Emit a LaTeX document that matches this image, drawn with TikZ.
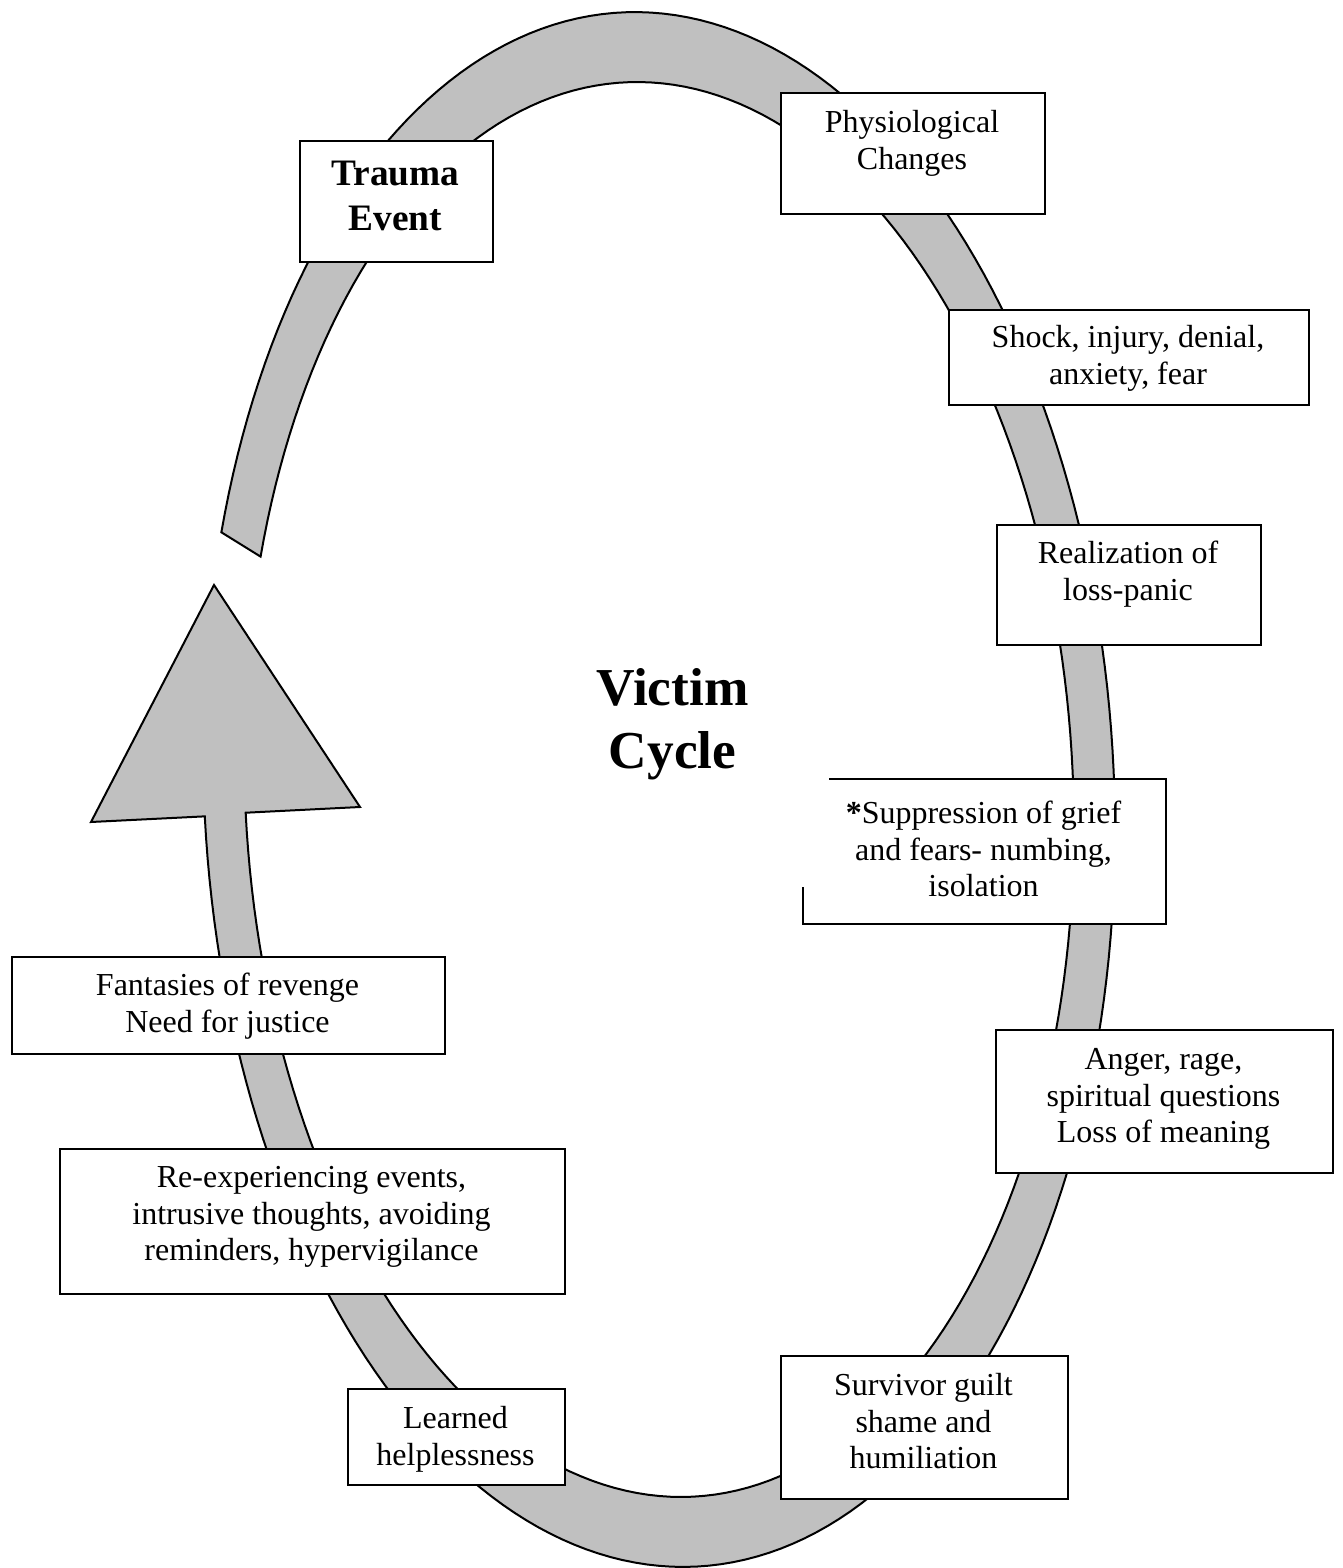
\documentclass[tikz,border=0pt]{standalone}
\usepackage{fontspec}
\setmainfont{Liberation Serif}
\definecolor{bandgray}{RGB}{192,192,192}
\tikzset{
  band/.style={fill=bandgray, draw=black, line width=0.75pt, line join=miter},
  box/.style={draw=black, fill=white, line width=0.85pt, inner sep=0pt, anchor=north west},
  txt/.style={inner sep=0pt, anchor=north, align=center, font=\fontsize{12}{13.7}\selectfont},
  boldtxt/.style={inner sep=0pt, anchor=north, align=center, font=\bfseries\fontsize{14}{16.9}\selectfont},
  titletxt/.style={inner sep=0pt, anchor=north, align=center, font=\bfseries\fontsize{20}{23.6}\selectfont}
}
\begin{document}
\begin{tikzpicture}[x=0.375pt, y=-0.375pt]
\useasboundingbox (0,0) rectangle (1342,1568);

% grey cycle band with arrow head
\draw[band]
  plot[domain=180.4:519.1, samples=220, variable=\t]
    ({659 + 454.495*cos(\t) - 36.652*sin(\t)}, {789.5 - 21.435*cos(\t) - 777.136*sin(\t)})
  -- plot[domain=519.2:180.3, samples=220, variable=\t]
    ({659 + 413.540*cos(\t) - 33.354*sin(\t)}, {789.5 - 19.504*cos(\t) - 707.214*sin(\t)})
  -- (360,807) -- (214,585) -- (91,822) -- cycle;

% boxes
\node[box, minimum width=72.375pt, minimum height=45.375pt] (trauma) at (299,140) {};
\node[box, minimum width=99pt, minimum height=45.375pt] (physio) at (780,92) {};
\node[box, minimum width=135pt, minimum height=35.625pt] (shock) at (948,309) {};
\node[box, minimum width=99pt, minimum height=45pt] (real) at (996,524) {};
\node[box, draw=none, minimum width=135.375pt, minimum height=53.625pt] (supp) at (803,779) {};
\draw[line width=0.85pt] ([xshift=9.75pt]supp.north west) -- (supp.north east) -- (supp.south east) -- (supp.south west) -- ([yshift=13.9pt]supp.south west);
\node[box, minimum width=126.375pt, minimum height=53.625pt] (anger) at (995,1029) {};
\node[box, minimum width=107.625pt, minimum height=53.625pt] (surv) at (780,1355) {};
\node[box, minimum width=81.375pt, minimum height=36pt] (learned) at (347,1388) {};
\node[box, minimum width=189.375pt, minimum height=54.375pt] (reexp) at (59,1148) {};
\node[box, minimum width=162.375pt, minimum height=36.375pt] (fant) at (11,956) {};

% texts
\node[boldtxt] (traumatext) at (395.5,153.5) {\strut Trauma\\Event};
\node[txt] (physiotext) at (912,106.4) {\strut Physiological\\Changes};
\node[txt] (shocktext) at (1128,321.4) {\strut Shock, injury, denial,\\anxiety, fear};
\node[txt] (realtext) at (1128,537.4) {\strut Realization of\\loss-panic};
\node[txt] (supptext) at (983.5,797.4) {\strut\textbf{*}Suppression of grief\\and fears- numbing,\\isolation};
\node[txt] (angertext) at (1163.5,1043.4) {\strut Anger, rage,\\spiritual questions\\Loss of meaning};
\node[txt] (survtext) at (923.5,1369.4) {\strut Survivor guilt\\shame and\\humiliation};
\node[txt] (learnedtext) at (455.5,1402.4) {\strut Learned\\helplessness};
\node[txt] (reexptext) at (311.5,1161.4) {\strut Re-experiencing events,\\intrusive thoughts, avoiding\\reminders, hypervigilance};
\node[txt] (fanttext) at (227.5,969.4) {\strut Fantasies of revenge\\Need for justice};
\node[titletxt] (title) at (672.5,661) {\strut Victim\\Cycle};
\end{tikzpicture}
\end{document}
